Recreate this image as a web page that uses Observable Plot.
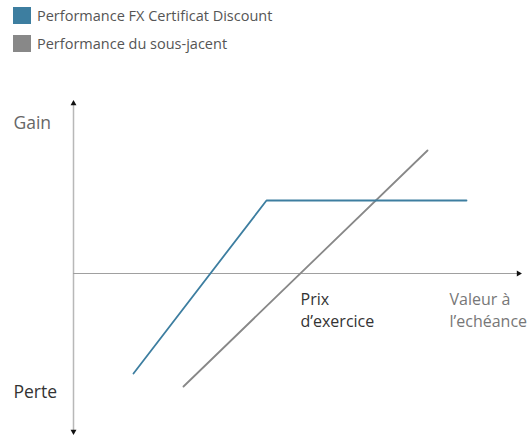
<!DOCTYPE html>
<html>
<head>
<meta charset="utf-8">
<script src="https://cdn.jsdelivr.net/npm/d3@7"></script>
<script src="https://cdn.jsdelivr.net/npm/@observablehq/plot@0.6"></script>
<style>
  html, body { margin: 0; padding: 0; background: #fff; }
  body { width: 532px; height: 435px; overflow: hidden; font-family: "Open Sans", sans-serif; }
  #legend { height: 62px; position: relative; }
  .item { position: absolute; left: 13px; height: 17px; line-height: 17px; display: flex; align-items: center; font-size: 14.5px; color: #555; white-space: nowrap; }
  .sw { width: 18px; height: 17px; margin-right: 6px; flex: none; }
  svg { display: block; }
</style>
</head>
<body>
<div id="legend"></div>
<div id="chart"></div>
<script>
// Series
const seriesNames = ["Performance FX Certificat Discount", "Performance du sous-jacent"];
const seriesColors = ["#3d7ea0", "#888888"];

// Payoff profile of the certificate (underlying value at maturity vs performance)
const certX = [60, 193, 393];
const certY = [-100, 73, 73];

// Performance of the underlying
const underX = [110, 354];
const underY = [-113, 123];

// Axis extents
const axisXmax = 447;
const axisYmin = -160;
const axisYmax = 173;
const strike = 227;

// Labels
const yLabels = ["Gain", "Perte"];
const xLabels = ["Prix\nd’exercice", "Valeur à\nl’echéance"];

// Legend
const legend = document.getElementById("legend");
seriesNames.forEach((n, i) => {
  const d = document.createElement("div");
  d.className = "item";
  d.style.top = (7 + i * 28) + "px";
  d.innerHTML = `<span class="sw" style="background:${seriesColors[i]}"></span><span>${n}</span>`;
  legend.appendChild(d);
});

const cert = certX.map((x, i) => ({x, y: certY[i]}));
const under = underX.map((x, i) => ({x, y: underY[i]}));

const chart = Plot.plot({
  width: 532,
  height: 373,
  marginLeft: 0, marginRight: 0, marginTop: 0, marginBottom: 0,
  x: {domain: [-73, 459], axis: null},
  y: {domain: [-162, 211], axis: null},
  style: {fontFamily: "Open Sans, sans-serif"},
  marks: [
    Plot.ruleX([0], {y1: axisYmin + 2, y2: axisYmax - 2, stroke: "#b8b8b8", strokeWidth: 1.5}),
    Plot.ruleY([0], {x1: 0, x2: axisXmax - 2, stroke: "#a0a0a0", strokeWidth: 1.2}),
    Plot.dot([{x: 0, y: axisYmax - 3}], {x: "x", y: "y", symbol: "triangle", r: 2.2, fill: "#111", stroke: null}),
    Plot.dot([{x: 0, y: axisYmin + 2}], {x: "x", y: "y", symbol: "triangle", rotate: 180, r: 2.2, fill: "#111", stroke: null}),
    Plot.dot([{x: axisXmax - 2, y: 0}], {x: "x", y: "y", symbol: "triangle", rotate: 90, r: 2.2, fill: "#111", stroke: null}),
    Plot.line(under, {x: "x", y: "y", stroke: seriesColors[1], strokeWidth: 1.8}),
    Plot.line(cert, {x: "x", y: "y", stroke: seriesColors[0], strokeWidth: 1.8}),
    Plot.text([yLabels[0]], {x: -60, y: 150, text: d => d, textAnchor: "start", fontSize: 17.5, fill: "#666"}),
    Plot.text([yLabels[1]], {x: -60, y: -119, text: d => d, textAnchor: "start", fontSize: 17.5, fill: "#333"}),
    Plot.text([xLabels[0]], {x: strike, y: -35, text: d => d, textAnchor: "start", fontSize: 16, fill: "#333", lineHeight: 1.375}),
    Plot.text([xLabels[1]], {x: 376, y: -35, text: d => d, textAnchor: "start", fontSize: 16, fill: "#777", lineHeight: 1.375})
  ]
});
document.getElementById("chart").appendChild(chart);
</script>
</body>
</html>
